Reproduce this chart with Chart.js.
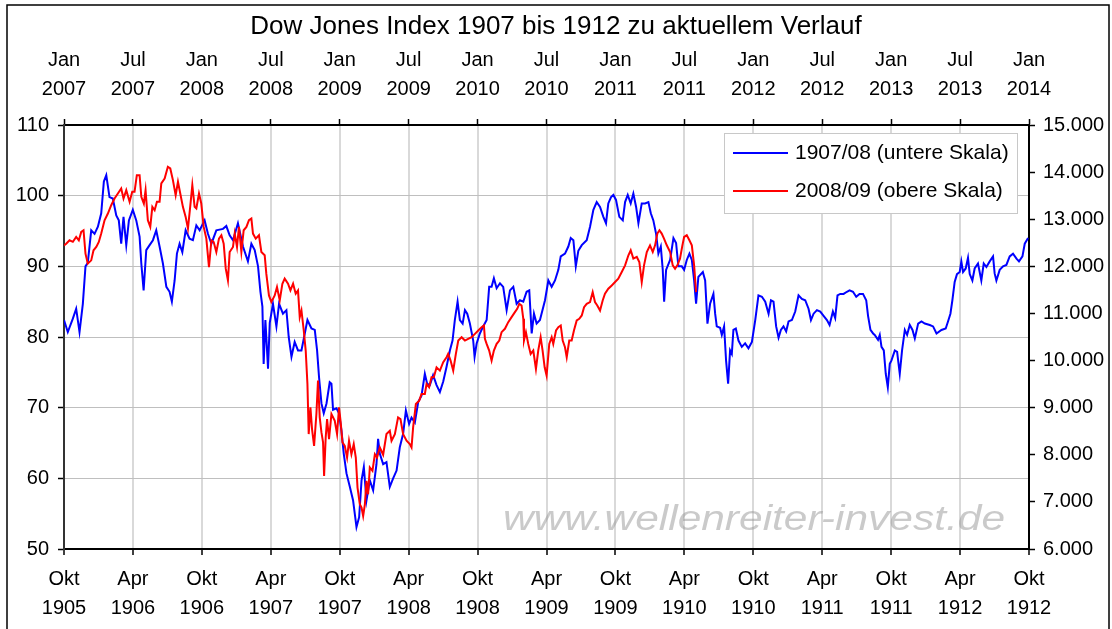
<!DOCTYPE html>
<html>
<head>
<meta charset="utf-8">
<script src="https://cdn.jsdelivr.net/npm/chart.js@4"></script>
<style>
  html, body { margin: 0; padding: 0; background: #fff; }
  canvas { display: block; }
</style>
</head>
<body>
<canvas id="dowChart" width="1112" height="629"></canvas>
<script>
// tick labels: bottom axis = 1905-1912 (months since Okt 1905), top axis = 2007-2014 (months since Jan 2007)
const bottomTicks = [["Okt","1905"],["Apr","1906"],["Okt","1906"],["Apr","1907"],["Okt","1907"],["Apr","1908"],["Okt","1908"],
  ["Apr","1909"],["Okt","1909"],["Apr","1910"],["Okt","1910"],["Apr","1911"],["Okt","1911"],["Apr","1912"],["Okt","1912"]];
const topTicks = [["Jan","2007"],["Jul","2007"],["Jan","2008"],["Jul","2008"],["Jan","2009"],["Jul","2009"],["Jan","2010"],
  ["Jul","2010"],["Jan","2011"],["Jul","2011"],["Jan","2012"],["Jul","2012"],["Jan","2013"],["Jul","2013"],["Jan","2014"]];

// 1907/08 series: [months since Okt 1905, index]
const blue1907 = [[0,82.4],[0.33,80.7],[0.77,82.6],[1.06,84.0],[1.35,80.7],[1.64,84.7],[1.87,90.0],[2.07,90.5],[2.37,95.1],[2.66,94.6],
  [2.95,95.6],[3.24,97.5],[3.47,102.0],[3.68,102.9],[3.96,99.8],[4.25,99.6],[4.55,97.2],[4.77,96.5],[4.98,93.2],[5.18,97.0],
  [5.42,93.0],[5.65,96.5],[5.99,98.0],[6.29,96.5],[6.58,94.2],[6.73,90.4],[6.93,86.6],[7.16,92.3],[7.45,93.0],[7.74,93.7],
  [8.03,95.1],[8.32,92.8],[8.61,90.4],[8.91,87.1],[9.19,86.4],[9.39,85.0],[9.63,88.0],[9.83,91.8],[10.06,93.2],[10.30,92.0],
  [10.59,95.1],[10.93,93.9],[11.22,93.7],[11.52,95.8],[11.81,95.1],[12.24,96.5],[12.53,94.6],[12.83,93.2],[13.26,95.1],[13.84,95.3],
  [14.13,95.7],[14.42,94.4],[14.71,93.7],[15.14,96.1],[15.58,92.8],[16.01,90.7],[16.31,93.2],[16.60,92.3],[16.89,90.0],[17.10,86.4],
  [17.27,84.3],[17.38,76.2],[17.53,82.4],[17.76,75.5],[17.91,82.0],[18.19,84.7],[18.49,81.5],[18.72,84.7],[19.06,83.3],[19.36,83.8],
  [19.56,80.0],[19.80,77.2],[20.08,79.3],[20.37,78.1],[20.67,78.1],[20.96,80.5],[21.19,82.4],[21.54,81.2],[21.83,81.0],[22.03,78.1],
  [22.20,74.3],[22.41,70.6],[22.61,69.2],[22.85,70.6],[23.13,73.6],[23.28,73.4],[23.42,69.7],[23.72,69.9],[23.94,69.2],[24.15,66.8],
  [24.35,63.5],[24.59,60.7],[24.88,58.8],[25.16,56.9],[25.46,53.1],[25.69,54.5],[25.90,59.7],[26.10,61.6],[26.33,56.9],[26.62,59.7],
  [26.91,58.3],[27.20,62.0],[27.34,65.6],[27.49,63.5],[27.78,62.0],[28.07,62.3],[28.36,58.8],[28.65,60.0],[28.95,61.1],[29.23,64.4],
  [29.52,66.3],[29.76,69.6],[30.04,67.7],[30.25,68.6],[30.54,67.9],[30.83,70.8],[31.12,71.7],[31.41,74.8],[31.61,73.4],[31.85,73.2],
  [32.13,74.6],[32.43,73.2],[32.72,72.2],[33.01,73.7],[33.30,75.8],[33.59,78.1],[33.82,79.5],[34.02,82.4],[34.26,85.0],[34.46,82.4],
  [34.70,81.9],[34.90,83.8],[35.10,83.3],[35.33,81.9],[35.62,79.5],[35.74,77.2],[35.92,79.1],[36.20,80.5],[36.49,81.5],[36.79,82.4],
  [37.01,87.1],[37.22,87.1],[37.42,88.3],[37.66,86.9],[37.95,87.6],[38.23,87.1],[38.53,83.8],[38.82,86.6],[39.11,87.1],[39.40,84.7],
  [39.69,85.2],[39.98,85.0],[40.27,86.4],[40.50,86.6],[40.71,80.5],[40.91,83.3],[41.14,81.9],[41.43,82.4],[41.87,85.2],[42.16,88.0],
  [42.45,87.1],[42.74,88.0],[43.03,89.5],[43.24,91.4],[43.61,91.8],[43.90,92.8],[44.11,94.0],[44.34,93.7],[44.55,90.0],[44.77,92.2],
  [45.07,93.0],[45.50,93.7],[45.79,95.6],[46.08,98.0],[46.37,99.1],[46.66,98.4],[46.95,97.0],[47.18,96.1],[47.38,98.9],[47.62,99.8],
  [47.82,100.1],[48.05,99.4],[48.34,97.0],[48.64,96.5],[48.84,99.1],[49.07,100.1],[49.33,98.9],[49.56,100.3],[49.80,98.4],[50.00,96.1],
  [50.29,98.9],[50.58,98.9],[50.87,99.1],[51.08,97.5],[51.30,96.5],[51.54,94.6],[51.74,91.8],[51.95,92.8],[52.12,89.5],[52.24,85.0],
  [52.41,89.5],[52.76,90.9],[53.05,94.0],[53.28,93.3],[53.48,90.0],[53.78,90.0],[53.98,89.5],[54.21,90.9],[54.44,91.8],[54.65,90.9],
  [54.85,88.0],[55.02,84.7],[55.22,88.5],[55.61,89.2],[55.81,88.0],[56.01,81.9],[56.24,84.7],[56.53,86.1],[56.68,83.3],[56.82,81.5],
  [57.11,81.3],[57.26,80.3],[57.46,81.5],[57.63,76.7],[57.81,73.4],[57.98,78.1],[58.13,77.6],[58.27,81.0],[58.48,81.2],[58.71,79.5],
  [59.00,78.6],[59.29,79.1],[59.58,78.4],[59.88,79.3],[60.17,82.4],[60.45,85.9],[60.75,85.7],[61.04,85.0],[61.33,83.3],[61.54,85.2],
  [61.76,85.0],[61.99,81.5],[62.20,79.9],[62.40,81.0],[62.63,81.5],[62.86,80.8],[63.07,82.2],[63.36,82.4],[63.65,83.6],[63.94,85.9],
  [64.23,85.4],[64.52,85.2],[64.81,84.0],[65.02,82.4],[65.25,83.3],[65.54,83.8],[65.83,83.6],[66.12,83.0],[66.41,82.4],[66.64,81.7],
  [66.93,83.6],[67.13,82.7],[67.33,85.9],[67.57,86.1],[67.86,86.1],[68.15,86.4],[68.38,86.6],[68.68,86.4],[68.96,85.7],[69.25,86.1],
  [69.55,86.1],[69.83,85.2],[69.99,83.0],[70.20,81.0],[70.43,80.5],[70.57,80.3],[70.86,79.6],[71.01,80.3],[71.16,78.6],[71.36,78.1],
  [71.53,74.8],[71.71,72.9],[71.88,76.2],[72.03,76.7],[72.32,78.1],[72.52,77.9],[72.75,74.8],[72.95,78.1],[73.19,81.0],[73.39,80.3],
  [73.62,81.7],[73.86,81.0],[74.06,79.8],[74.35,81.9],[74.64,82.2],[74.93,81.9],[75.36,81.7],[75.65,81.5],[75.95,80.5],[76.38,81.0],
  [76.75,81.2],[76.95,82.2],[77.16,83.3],[77.33,85.2],[77.53,87.8],[77.73,88.9],[77.97,89.2],[78.11,90.7],[78.26,89.2],[78.49,89.7],
  [78.69,91.2],[78.84,88.9],[79.07,88.0],[79.27,89.7],[79.56,90.4],[79.85,88.0],[80.06,90.4],[80.29,89.9],[80.58,90.7],[80.87,91.4],
  [81.01,89.0],[81.16,88.0],[81.45,89.5],[81.74,90.0],[82.03,90.2],[82.32,91.4],[82.61,91.8],[82.91,91.1],[83.13,90.7],[83.43,91.4],
  [83.63,93.2],[83.92,94.0]];

// 2008/09 series: [months since Jan 2007, index]
const red2008 = [[0,12446],[0.19,12480],[0.48,12553],[0.77,12520],[1.06,12623],[1.29,12550],[1.50,12730],[1.70,12766],[1.87,12270],
  [2.07,12057],[2.37,12127],[2.57,12340],[2.81,12411],[3.03,12517],[3.24,12695],[3.53,12978],[3.82,13120],[4.11,13298],[4.40,13440],
  [4.69,13546],[4.98,13652],[5.18,13440],[5.42,13617],[5.71,13369],[5.94,13581],[6.14,13581],[6.34,13936],[6.58,13936],[6.73,13475],
  [6.95,13333],[7.10,13617],[7.30,12978],[7.51,12837],[7.69,13262],[7.89,13191],[8.09,13369],[8.32,13369],[8.47,13759],[8.76,13865],
  [9.04,14113],[9.25,14078],[9.48,13830],[9.72,13510],[9.92,13794],[10.12,13546],[10.35,13262],[10.59,13049],[10.79,12801],[11.00,13298],
  [11.17,13723],[11.37,13262],[11.52,13227],[11.75,13546],[11.95,13333],[12.16,12837],[12.39,12588],[12.62,11985],[12.83,12553],[13.03,12517],
  [13.26,12305],[13.49,12588],[13.70,12659],[13.90,12482],[14.08,11950],[14.27,11702],[14.42,12305],[14.71,12411],[14.86,12695],[15.06,12411],
  [15.23,12837],[15.44,12305],[15.64,12766],[15.88,12837],[16.10,12979],[16.31,13014],[16.45,12695],[16.69,12588],[16.97,12659],[17.18,12305],
  [17.47,12234],[17.61,11844],[17.84,11382],[18.05,11241],[18.34,11382],[18.54,11560],[18.78,11276],[19.01,11631],[19.21,11738],[19.50,11631],
  [19.71,11489],[19.94,11631],[20.17,11418],[20.37,11489],[20.52,10921],[20.67,11063],[20.87,10638],[21.04,10212],[21.19,9503],[21.30,8439],
  [21.45,9006],[21.59,8546],[21.77,8190],[21.97,8865],[22.11,9574],[22.26,8794],[22.41,8474],[22.55,8262],[22.64,7552],[22.78,8368],
  [22.90,8758],[23.07,8333],[23.28,8865],[23.57,8723],[23.77,8439],[23.94,9006],[24.07,8723],[24.24,8262],[24.44,8190],[24.64,7942],
  [24.81,8297],[25.02,8013],[25.22,8226],[25.40,7942],[25.55,7304],[25.75,6949],[25.90,6878],[26.04,6701],[26.19,6949],[26.33,7446],
  [26.47,7162],[26.62,7730],[26.85,7659],[27.06,8013],[27.25,7942],[27.49,8155],[27.78,8000],[28.07,8439],[28.36,8510],[28.51,8297],
  [28.80,8439],[29.08,8794],[29.29,8758],[29.52,8439],[29.82,8297],[30.10,8226],[30.25,8155],[30.39,8581],[30.63,9077],[30.92,9148],
  [31.12,9290],[31.41,9290],[31.56,9503],[31.78,9432],[31.99,9645],[32.19,9645],[32.43,9857],[32.72,9787],[33.01,9964],[33.30,10070],
  [33.44,10141],[33.65,10000],[33.88,9787],[34.11,10141],[34.32,10425],[34.61,10496],[34.90,10425],[35.18,10460],[35.48,10496],[35.77,10567],
  [36.06,10638],[36.35,10709],[36.55,10745],[36.64,10460],[36.79,10354],[37.01,10212],[37.22,10000],[37.42,10212],[37.66,10354],[37.89,10425],
  [38.09,10603],[38.38,10674],[38.67,10815],[38.96,10921],[39.25,11028],[39.45,11099],[39.63,11205],[39.83,11170],[39.98,10886],[40.04,10425],
  [40.21,10603],[40.41,10354],[40.62,10141],[40.85,10212],[41.08,9822],[41.28,10212],[41.49,10496],[41.66,10212],[41.84,9857],[42.01,9680],
  [42.24,10354],[42.45,10496],[42.59,10354],[42.83,10638],[43.03,10709],[43.24,10745],[43.41,10425],[43.61,10283],[43.76,10070],[43.98,10425],
  [44.19,10425],[44.39,10638],[44.63,10851],[44.85,10886],[45.07,10957],[45.27,11134],[45.50,11205],[45.79,11241],[46.02,11453],[46.22,11241],
  [46.42,11170],[46.66,11063],[46.89,11276],[47.09,11418],[47.38,11524],[47.68,11595],[47.97,11666],[48.25,11737],[48.55,11879],[48.84,12021],
  [49.13,12234],[49.33,12340],[49.56,12163],[49.86,12199],[50.08,12092],[50.29,11666],[50.49,12021],[50.73,12305],[51.01,12446],[51.25,12305],
  [51.45,12446],[51.65,12695],[51.83,12766],[52.03,12695],[52.23,12588],[52.47,12446],[52.76,12305],[52.99,12021],[53.19,11950],[53.39,12021],
  [53.62,12163],[53.83,12446],[53.98,12624],[54.21,12659],[54.44,12553],[54.65,12446],[54.85,12021],[55.02,11453]];

const FONT = '"Liberation Sans", Arial, sans-serif';

function thousands(v) {
  return String(v).replace(/\B(?=(\d{3})+(?!\d))/g, '.');
}

// outer frame around the whole picture
const framePlugin = {
  id: 'frame',
  afterDraw(chart) {
    const ctx = chart.ctx;
    ctx.save();
    ctx.strokeStyle = '#000';
    ctx.lineWidth = 1.5;
    ctx.strokeRect(7, 5, chart.width - 10, chart.height + 20);
    ctx.restore();
  }
};

const watermarkPlugin = {
  id: 'watermark',
  beforeDatasetsDraw(chart) {
    const { ctx, chartArea } = chart;
    const text = 'www.wellenreiter-invest.de';
    ctx.save();
    ctx.font = 'italic 35px ' + FONT;
    const w = ctx.measureText(text).width;
    const target = 502;
    ctx.translate(chartArea.right - 24 - target, chartArea.bottom - 19);
    ctx.scale(target / w, 1);
    ctx.fillStyle = 'rgba(150,150,150,0.5)';
    ctx.fillText(text, 0, 0);
    ctx.restore();
  }
};

// boxed legend in the top right corner of the plot
const boxLegend = {
  id: 'boxLegend',
  afterDatasetsDraw(chart) {
    const { ctx, chartArea } = chart;
    const w = 293, h = 80;
    const x = chartArea.right - 12 - w, y = chartArea.top + 8;
    ctx.save();
    ctx.fillStyle = '#fff';
    ctx.fillRect(x, y, w, h);
    ctx.strokeStyle = '#c8c8c8';
    ctx.lineWidth = 1;
    ctx.strokeRect(x + 0.5, y + 0.5, w, h);
    ctx.font = '21px ' + FONT;
    ctx.textBaseline = 'middle';
    chart.data.datasets.forEach((ds, i) => {
      const ly = y + 20 + i * 38;
      ctx.strokeStyle = ds.borderColor;
      ctx.lineWidth = 2;
      ctx.beginPath();
      ctx.moveTo(x + 9, ly);
      ctx.lineTo(x + 64, ly);
      ctx.stroke();
      ctx.fillStyle = '#000';
      ctx.fillText(ds.label, x + 71, ly);
    });
    ctx.restore();
  }
};

Chart.defaults.font.family = FONT;
Chart.defaults.color = '#000';

new Chart(document.getElementById('dowChart'), {
  type: 'line',
  data: {
    datasets: [{
      label: '1907/08 (untere Skala)',
      data: blue1907.map(([m, v]) => ({ x: m, y: v })),
      xAxisID: 'x', yAxisID: 'y',
      borderColor: '#0000ff', borderWidth: 2,
      pointRadius: 0, tension: 0, order: 1
    }, {
      label: '2008/09 (obere Skala)',
      data: red2008.map(([m, v]) => ({ x: m, y: v })),
      xAxisID: 'x2', yAxisID: 'y2',
      borderColor: '#ff0000', borderWidth: 2,
      pointRadius: 0, tension: 0, order: 0
    }]
  },
  options: {
    responsive: false,
    animation: false,
    devicePixelRatio: 1,
    layout: { padding: 0 },
    plugins: {
      legend: { display: false },
      tooltip: { enabled: false },
      title: {
        display: true,
        text: 'Dow Jones Index 1907 bis 1912 zu aktuellem Verlauf',
        color: '#000',
        font: { size: 26, weight: 'normal' },
        padding: { top: 11, bottom: 3 }
      }
    },
    scales: {
      x: {
        type: 'linear', position: 'bottom', min: 0, max: 84,
        afterFit: s => { s.height = 80; },
        ticks: {
          stepSize: 6, autoSkip: false, maxRotation: 0, padding: 10,
          font: { size: 20, lineHeight: 1.45 },
          callback: v => bottomTicks[Math.round(v / 6)]
        },
        grid: { color: '#d9d9d9', lineWidth: 2, tickLength: 6, tickColor: '#000', tickWidth: 1.5 },
        border: { color: '#000', width: 2 }
      },
      x2: {
        type: 'linear', position: 'top', min: 0, max: 84,
        afterFit: s => { s.height = 125 - (s.chart.titleBlock ? s.chart.titleBlock.height : 45); },
        ticks: {
          stepSize: 6, autoSkip: false, maxRotation: 0, padding: 15,
          font: { size: 20, lineHeight: 1.45 },
          callback: v => topTicks[Math.round(v / 6)]
        },
        grid: { drawOnChartArea: false, tickLength: 6, tickColor: '#000', tickWidth: 1.5 },
        border: { color: '#000', width: 2 }
      },
      y: {
        position: 'left', min: 50, max: 110,
        afterFit: s => { s.width = 64; },
        ticks: { stepSize: 10, padding: 9, font: { size: 20 } },
        grid: { color: '#bfbfbf', lineWidth: 1, tickLength: 6, tickColor: '#000', tickWidth: 1.5 },
        border: { color: '#333', width: 2 }
      },
      y2: {
        position: 'right', min: 6000, max: 15000,
        afterFit: s => { s.width = 83; },
        ticks: { stepSize: 1000, padding: 8, font: { size: 20 }, callback: v => thousands(v) },
        grid: { drawOnChartArea: false, tickLength: 6, tickColor: '#000', tickWidth: 1.5 },
        border: { color: '#000', width: 2 }
      }
    }
  },
  plugins: [watermarkPlugin, boxLegend, framePlugin]
});
</script>
</body>
</html>
